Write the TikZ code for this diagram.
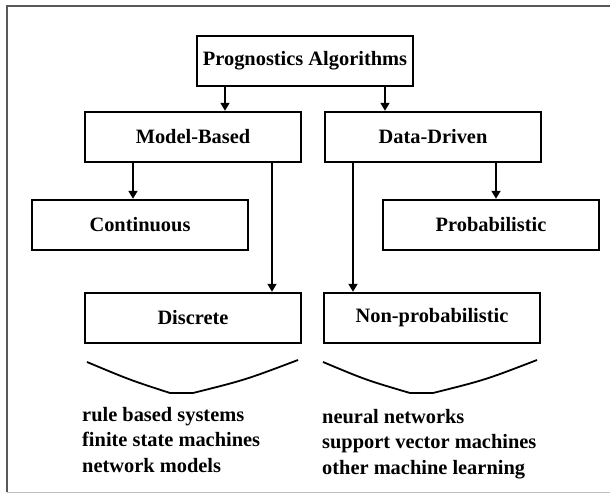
\documentclass[tikz,border=0pt]{standalone}
\usepackage{fontspec}
\setmainfont{Liberation Serif}
\usetikzlibrary{arrows.meta}

\tikzset{
  box/.style={draw, line width=2.4pt, minimum width=216pt, minimum height=50pt,
    inner sep=0pt, font=\fontsize{20.4}{25}\selectfont\bfseries},
  arr/.style={line width=1.8pt, -{Triangle[width=9pt,length=8pt]}},
  vee/.style={line width=1.8pt, line join=round},
  itemlist/.style={anchor=north west, inner sep=0pt, align=left,
    font=\fontsize{20.4}{25.5}\selectfont\bfseries}
}

\begin{document}
\begin{tikzpicture}[x=1pt, y=-1pt]
  \useasboundingbox (0,0) rectangle (610,497);

  % Frame
  \draw[line width=1.6pt, black!65] (620,6) -- (7,6) -- (7,492);
  \draw[line width=1pt, black!25] (7,492) -- (620,492);

  % Boxes
  \node[box] (prog) at (305,61) {Prognostics Algorithms};
  \node[box] (model) at (193,137) {Model-Based};
  \node[box] (data) at (433,137) {Data-Driven};
  \node[box] (cont) at (140,225) {Continuous};
  \node[box] (prob) at (491,225) {Probabilistic};
  \node[box] (disc) at (193,318) {Discrete};
  \node[box] (nonp) at (432,318) {Non-probabilistic};

  % Arrows
  \draw[arr] ([xshift=-80pt]prog.south) -- ([xshift=-80pt]prog.south |- model.north);
  \draw[arr] ([xshift=80pt]prog.south) -- ([xshift=80pt]prog.south |- data.north);
  \draw[arr] ([xshift=-60pt]model.south) -- ([xshift=-60pt]model.south |- cont.north);
  \draw[arr] ([xshift=79pt]model.south) -- ([xshift=79pt]model.south |- disc.north);
  \draw[arr] ([xshift=-80pt]data.south) -- ([xshift=-80pt]data.south |- nonp.north);
  \draw[arr] ([xshift=63pt]data.south) -- ([xshift=63pt]data.south |- prob.north);

  % Brackets under the lower boxes
  \draw[vee] (87,362) .. controls (130,380) .. (170,393) -- (193,393) .. controls (245,380) .. (298,360);
  \draw[vee] (323,362) .. controls (366,380) .. (410,393) -- (433,393) .. controls (485,380) .. (537,360);

  % Examples
  \node[itemlist] (modellist) at (82,407) {rule based systems\\finite state machines\\network models};
  \node[itemlist] (datalist) at (322,409) {neural networks\\support vector machines\\other machine learning};
\end{tikzpicture}
\end{document}
